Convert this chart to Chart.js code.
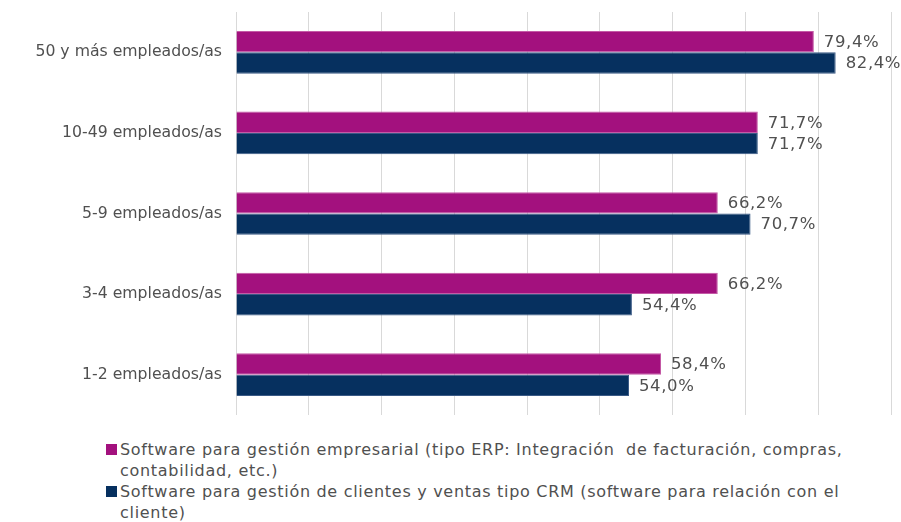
<!DOCTYPE html>
<html>
<head>
<meta charset="utf-8">
<script src="https://cdn.jsdelivr.net/npm/chart.js@4/dist/chart.umd.min.js"></script>
<style>
  html, body { margin: 0; padding: 0; background: #fff; }
  #wrap { position: relative; width: 901px; height: 522px; overflow: hidden; }
  #chartBox { position: absolute; left: 0; top: 0; width: 901px; height: 416px; }
  #legend { position: absolute; left: 106px; top: 439px; width: 760px;
            font-family: "DejaVu Sans", sans-serif; font-size: 16px; letter-spacing: 0.7px; color: #505050; line-height: 21px; }
  .item { position: relative; padding-left: 14px; }
  .sw { position: absolute; left: 0; top: 5px; width: 11px; height: 11px; }
</style>
</head>
<body>
<div id="wrap">
  <div id="chartBox"><canvas id="c"></canvas></div>
  <div id="legend"></div>
</div>
<script>
const categories = ["50 y más empleados/as", "10-49 empleados/as", "5-9 empleados/as", "3-4 empleados/as", "1-2 empleados/as"];
const seriesNames = [
  "Software para gestión empresarial (tipo ERP: Integración  de facturación, compras, contabilidad, etc.)",
  "Software para gestión de clientes y ventas tipo CRM (software para relación con el cliente)"
];
const erpValues = [79.4, 71.7, 66.2, 66.2, 58.4];
const crmValues = [82.4, 71.7, 70.7, 54.4, 54.0];
const colors = ["#A3117E", "#06305F"];

const valueLabels = {
  id: "valueLabels",
  afterDatasetsDraw(chart) {
    const ctx = chart.ctx;
    ctx.save();
    ctx.font = '16.5px "DejaVu Sans", sans-serif';
    if ("letterSpacing" in ctx) ctx.letterSpacing = "0.6px";
    ctx.fillStyle = "#505050";
    ctx.textAlign = "left";
    ctx.textBaseline = "middle";
    chart.data.datasets.forEach((ds, di) => {
      chart.getDatasetMeta(di).data.forEach((bar, i) => {
        const txt = ds.data[i].toFixed(1).replace(".", ",") + "%";
        ctx.fillText(txt, bar.x + 10, bar.y + 1);
      });
    });
    ctx.restore();
  }
};

new Chart(document.getElementById("c"), {
  type: "bar",
  data: {
    labels: categories,
    datasets: [
      { label: seriesNames[0], data: erpValues, backgroundColor: colors[0], borderColor: "#c45aa6", borderWidth: 1, borderSkipped: "left" },
      { label: seriesNames[1], data: crmValues, backgroundColor: colors[1], borderColor: "#3a5a86", borderWidth: 1, borderSkipped: "left" }
    ]
  },
  options: {
    indexAxis: "y",
    responsive: true,
    maintainAspectRatio: false,
    animation: false,
    layout: { padding: { top: 12, right: 10, bottom: 1, left: 0 } },
    datasets: { bar: { categoryPercentage: 0.53, barPercentage: 1.0 } },
    plugins: { legend: { display: false }, tooltip: { enabled: false } },
    scales: {
      x: {
        min: 0, max: 90,
        ticks: { display: false, stepSize: 10 },
        grid: { color: "#d9d9d9", lineWidth: 1, drawTicks: false },
        border: { display: false },
        afterFit(s) { s.height = 0; s.paddingLeft = 0; s.paddingRight = 0; }
      },
      y: {
        ticks: { color: "#505050", font: { family: "DejaVu Sans", size: 15.7 }, padding: 14 },
        grid: { display: false, drawTicks: false },
        border: { display: false },
        afterFit(s) { s.width = 236; s.paddingTop = 0; s.paddingBottom = 0; }
      }
    }
  },
  plugins: [valueLabels]
});

const leg = document.getElementById("legend");
seriesNames.forEach((n, i) => {
  const d = document.createElement("div");
  d.className = "item";
  d.innerHTML = '<span class="sw" style="background:' + colors[i] + '"></span>';
  const t = document.createElement("span");
  t.textContent = n;
  t.style.whiteSpace = "pre-wrap";
  d.appendChild(t);
  leg.appendChild(d);
});
</script>
</body>
</html>
